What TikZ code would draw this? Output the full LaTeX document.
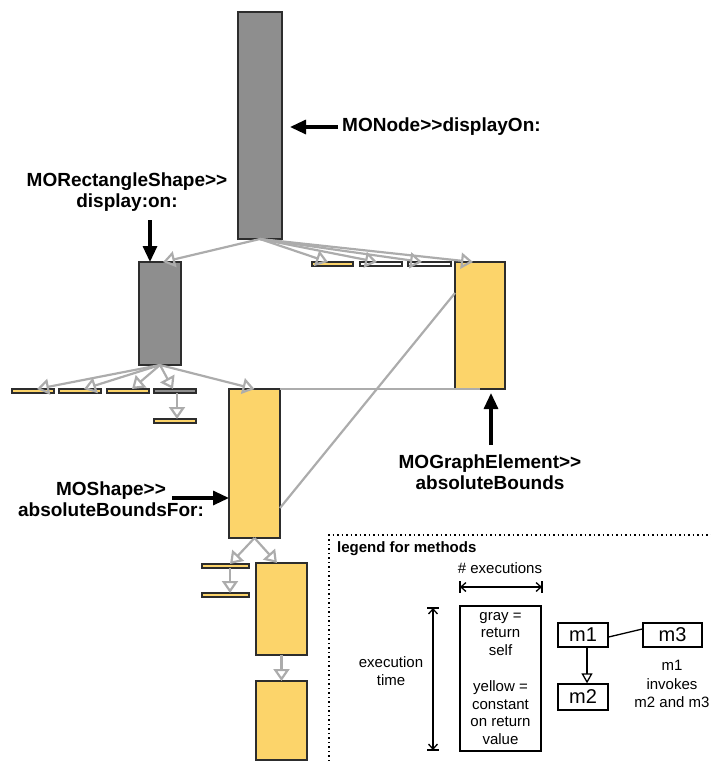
\documentclass[tikz,border=0pt]{standalone}
\usepackage{fontspec}
\setmainfont{Liberation Sans}
\usetikzlibrary{arrows.meta}
\definecolor{ygold}{RGB}{252,212,106}
\definecolor{mgray}{RGB}{142,142,142}
\definecolor{cgray}{RGB}{172,172,172}
\definecolor{edgec}{RGB}{45,45,45}
\newcommand{\gtgt}{>\kern0pt>}
\begin{document}
\begin{tikzpicture}[x=1pt,y=-1pt,
  methbox/.style={draw=edgec, line width=1.3pt, anchor=north west, inner sep=0pt, outer sep=0pt},
  graybox/.style={methbox, fill=mgray},
  yelbox/.style={methbox, fill=ygold},
  whitebox/.style={methbox, fill=white},
  calledge/.style={draw=cgray, line width=2.2pt, -{Triangle[open,width=16pt,length=12pt]}},
  linkedge/.style={draw=cgray, line width=2.2pt},
  ptr/.style={line width=3.2pt, -{Triangle[width=14pt,length=16pt]}},
  biglabel/.style={font=\fontsize{19}{21}\selectfont\bfseries, align=center, inner sep=1pt},
  legtext/.style={font=\fontsize{15}{17.5}\selectfont, align=center, inner sep=1pt},
  legtitle/.style={font=\fontsize{15}{17.5}\selectfont\bfseries, inner sep=0pt},
  legline/.style={line width=1.3pt, black},
  dimarrow/.style={legline, {Straight Barb[length=5pt,width=9pt]}-{Straight Barb[length=5pt,width=9pt]}},
  mbox/.style={draw=black, line width=1.3pt, inner sep=0pt, font=\fontsize{20}{22}\selectfont}
]
\useasboundingbox (0,0) rectangle (711,761);

% method boxes
\node[graybox, minimum width=44pt, minimum height=227pt] (A) at (238,12) {};
\node[graybox, minimum width=42pt, minimum height=103pt] (B) at (139,262) {};
\node[yelbox, minimum width=50pt, minimum height=127pt] (C) at (455,262) {};
\node[yelbox, minimum width=51pt, minimum height=149pt] (D) at (229,389) {};
\node[yelbox, minimum width=51pt, minimum height=92pt] (E) at (256,563) {};
\node[yelbox, minimum width=51pt, minimum height=79pt] (F) at (256,681) {};

% small bars
\node[yelbox, minimum width=41pt, minimum height=4pt] (t1) at (312,262) {};
\node[whitebox, minimum width=42pt, minimum height=4pt] (t2) at (360,262) {};
\node[whitebox, minimum width=43pt, minimum height=4pt] (t3) at (408,262) {};
\node[yelbox, minimum width=42pt, minimum height=4pt] (b1) at (12,389) {};
\node[yelbox, minimum width=42pt, minimum height=4pt] (b2) at (59,389) {};
\node[yelbox, minimum width=42pt, minimum height=4pt] (b3) at (107,389) {};
\node[graybox, minimum width=42pt, minimum height=4pt] (b4) at (154,389) {};
\node[yelbox, minimum width=42pt, minimum height=4pt] (b5) at (154,419) {};
\node[yelbox, minimum width=47pt, minimum height=4pt] (d1) at (202,564) {};
\node[yelbox, minimum width=47pt, minimum height=4pt] (d2) at (202,593) {};

% calls from A
\draw[calledge] (A.south) -- ([xshift=3pt]B.north);
\draw[calledge] (A.south) -- ([xshift=-4.5pt]t1.north);
\draw[calledge] (A.south) -- ([xshift=-4pt]t2.north);
\draw[calledge] (A.south) -- ([xshift=-7.5pt]t3.north);
\draw[calledge] (A.south) -- ([xshift=-7pt]C.north);
% calls from B
\draw[calledge] (B.south) -- ([xshift=4pt]b1.north);
\draw[calledge] (B.south) -- ([xshift=4pt]b2.north);
\draw[calledge] (B.south) -- ([xshift=4pt]b3.north);
\draw[calledge] (B.south) -- ([xshift=-2pt]b4.north);
\draw[calledge] (B.south) -- (D.north);
\draw[calledge] ([xshift=2pt]b4.south) -- ([xshift=2pt]b5.north);
% calls from D
\draw[calledge] (D.south) -- ([xshift=4.5pt]d1.north);
\draw[calledge] (D.south) -- ([xshift=-4.5pt]E.north);
\draw[calledge] ([xshift=4.5pt]d1.south) -- ([xshift=4.5pt]d2.north);
\draw[calledge] (E.south) -- (F.north);
% links C - D
\draw[linkedge] ([yshift=32.5pt]C.west) -- ([yshift=-44.5pt]D.east);
\draw[linkedge] (D.north east) -- (C.south);

% labels
\node[biglabel, anchor=west] (lA) at (341,127) {MONode\gtgt displayOn:};
\node[biglabel] (lB) at (127,192) {MORectangleShape\gtgt\\display:on:};
\node[biglabel] (lD) at (111,499) {MOShape\gtgt\\absoluteBoundsFor:};
\node[biglabel] (lC) at (490,472) {MOGraphElement\gtgt\\absoluteBounds};
\coordinate (pA) at (338,127);
\coordinate (pB) at (150,220);
\coordinate (pD) at (172,498);
\coordinate (pC) at (491,445);
\draw[ptr] (pA) -- ([xshift=8pt,yshift=-1.5pt]A.east);
\draw[ptr] (pB) -- ([xshift=-10pt]B.north);
\draw[ptr] (pD) -- ([yshift=-34.5pt]D.west);
\draw[ptr] (pC) -- ([xshift=11pt,yshift=-4pt]C.south);

% legend
\draw[line width=1.5pt, dash pattern=on 1.5pt off 3pt] (329,761) -- (329,535) -- (711,535);
\node[legtitle, anchor=west] (legT) at (337,549) {legend for methods};
\node[legtext] (nexec) at (500,568) {\# executions};
\coordinate (h1) at (460,587);
\coordinate (h2) at (542,587);
\draw[dimarrow] (h1) -- (h2);
\draw[legline] ([yshift=6pt]h1) -- ([yshift=-6pt]h1);
\draw[legline] ([yshift=6pt]h2) -- ([yshift=-6pt]h2);
\coordinate (v1) at (433,608);
\coordinate (v2) at (433,750);
\draw[dimarrow] (v1) -- (v2);
\draw[legline] ([xshift=-6pt]v1) -- ([xshift=6pt]v1);
\draw[legline] ([xshift=-6pt]v2) -- ([xshift=6pt]v2);
\node[legtext] (ntime) at (391,671) {execution\\time};
\node[legtext, draw=black, line width=1.3pt, minimum width=81pt, minimum height=145pt] (lg) at (500.5,678.5)
  {gray =\\return\\self\\[19pt]yellow =\\constant\\on return\\value};
\node[mbox, minimum width=50pt, minimum height=24pt] (m1) at (583,635) {m1};
\node[mbox, minimum width=59pt, minimum height=24pt] (m3) at (672.5,635) {m3};
\node[mbox, minimum width=50pt, minimum height=26pt] (m2) at (583,697) {m2};
\draw[legline] ([yshift=-2pt]m1.east) -- ([yshift=6pt]m3.west);
\draw[legline, -{Triangle[open,width=11pt,length=10pt]}] ([xshift=4pt]m1.south) -- ([xshift=4pt]m2.north);
\node[legtext, font=\fontsize{15}{18.5}\selectfont] (ninv) at (672,684) {m1\\invokes\\m2 and m3};
\end{tikzpicture}
\end{document}
